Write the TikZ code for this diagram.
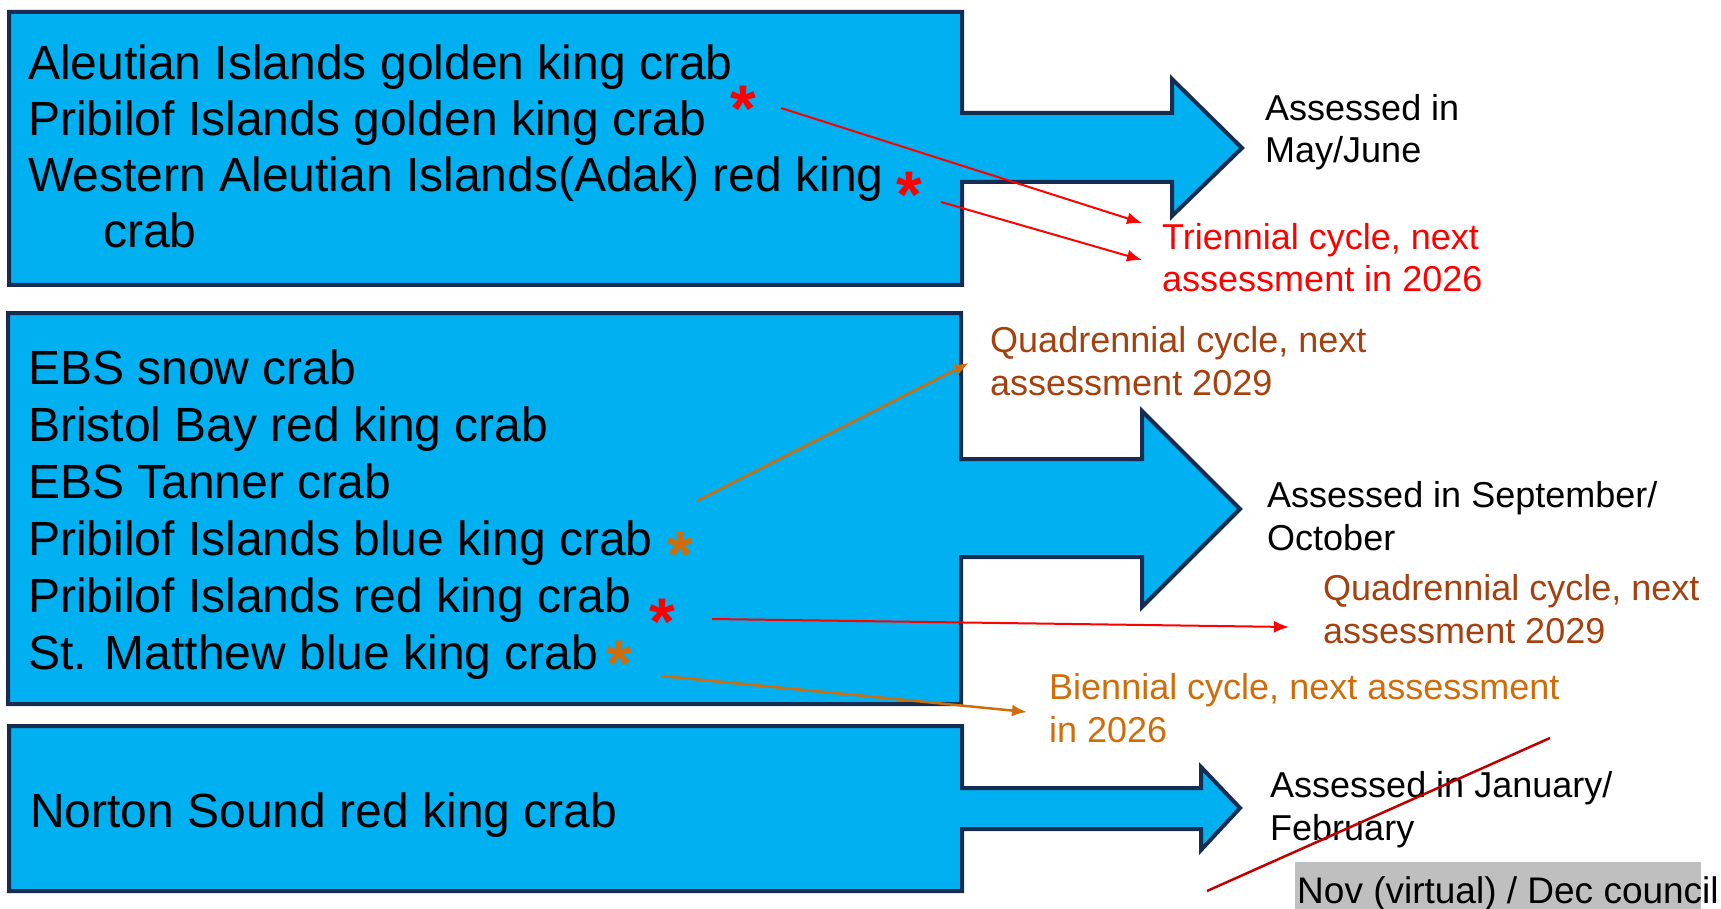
\documentclass[tikz,border=0pt]{standalone}
\usepackage{fontspec}
\setmainfont{Liberation Sans}
\usetikzlibrary{arrows.meta,positioning}
\definecolor{BoxBlue}{HTML}{00B0F0}
\definecolor{BoxEdge}{HTML}{172C51}
\definecolor{NoteRed}{HTML}{FF0000}
\definecolor{NoteBrown}{HTML}{A5400F}
\definecolor{NoteOrange}{HTML}{CF6D0B}
\definecolor{StrikeRed}{HTML}{C00000}
\definecolor{CouncilGray}{HTML}{BFBFBF}

\begin{document}
\begin{tikzpicture}[x=1pt, y=-1pt,
  crabbox/.style={draw=BoxEdge, fill=BoxBlue, line width=4pt, line join=miter},
  stock/.style={anchor=base west, inner sep=0pt, align=left, font=\fontsize{48}{57}\selectfont},
  note/.style={anchor=base west, inner sep=0pt, align=left, font=\fontsize{36}{42.5}\selectfont},
  star/.style={anchor=north, inner sep=0pt, font=\fontsize{66}{66}\selectfont\bfseries},
  redarr/.style={-{Latex[length=15pt,width=12pt]}, line width=2pt, NoteRed},
  orgarr/.style={-{Latex[length=15pt,width=12pt]}, line width=2.5pt, NoteOrange}
]
\useasboundingbox (0,0) rectangle (1721,909);

% three groups, each box runs into its arrow
\draw[crabbox] (9,12) -- (962,12) -- (962,113) -- (1172,113) -- (1172,79) -- (1242,148)
  -- (1172,216) -- (1172,182) -- (962,182) -- (962,285) -- (9,285) -- cycle;
\draw[crabbox] (8,313) -- (961,313) -- (961,459) -- (1142,459) -- (1142,411) -- (1240,509)
  -- (1142,607) -- (1142,557) -- (961,557) -- (961,704) -- (8,704) -- cycle;
\draw[crabbox] (9,726) -- (962,726) -- (962,788) -- (1201,788) -- (1201,767) -- (1240,808)
  -- (1201,850) -- (1201,829) -- (962,829) -- (962,891) -- (9,891) -- cycle;

% stocks (base = last line)
\node[stock, font=\fontsize{48}{56}\selectfont] (spring) at (28,248) {Aleutian Islands golden king crab\\Pribilof Islands golden king crab\\Western Aleutian Islands(Adak) red king\\\hspace*{75pt}crab};
\node[stock] (fall) at (28,669) {EBS snow crab\\Bristol Bay red king crab\\EBS Tanner crab\\Pribilof Islands blue king crab\\Pribilof Islands red king crab\\St. Matthew blue king crab};
\node[stock] (winter) at (30,827) {Norton Sound red king crab};

% timing
\node[note] (may) at (1265,163) {Assessed in\\May/June};
\node[note] (sep) at (1267,550) {Assessed in September/\\October};
\node[note] (jan) at (1270,840) {Assessed in January/\\February};

% cycles
\node[note, text=NoteRed] (tri) at (1162,292) {Triennial cycle, next\\assessment in 2026};
\node[note, text=NoteBrown] (quadA) at (990,395) {Quadrennial cycle, next\\assessment 2029};
\node[note, text=NoteBrown] (quadB) at (1323,643) {Quadrennial cycle, next\\assessment 2029};
\node[note, text=NoteOrange] (bien) at (1049,742) {Biennial cycle, next assessment\\in 2026};

% asterisks
\node[star, text=NoteRed] (pigkc) at (743,86) {*};
\node[star, text=NoteRed] (wairkc) at (909,172) {*};
\node[star, text=NoteOrange] (pibkc) at (680,532) {*};
\node[star, text=NoteRed] (pirkc) at (662,599) {*};
\node[star, text=NoteOrange] (smbkc) at (619,641) {*};

\coordinate (pigkcS) at (781,108);
\coordinate (wairkcS) at (941,202);
\coordinate (pibkcS) at (697,501);
\coordinate (pirkcS) at (712,619);
\coordinate (smbkcS) at (662,676);
\coordinate (triA) at (1142,223);
\coordinate (triB) at (1142,260);
\coordinate (quadAE) at (969,363);
\coordinate (quadBE) at (1289,627);
\coordinate (bienE) at (1027,712);

\draw[redarr] (pigkcS) -- (triA);
\draw[redarr] (wairkcS) -- (triB);
\draw[orgarr] (pibkcS) -- (quadAE);
\draw[redarr] (pirkcS) -- (quadBE);
\draw[orgarr] (smbkcS) -- (bienE);

% council meeting
\fill[CouncilGray] (1295,862) rectangle (1701,909);
\node[anchor=base west, inner sep=0pt, font=\fontsize{37}{44}\selectfont] (council) at (1297,903) {Nov (virtual) / Dec council};
\coordinate (strikeA) at (1207,891);
\coordinate (strikeB) at (1550,738);
\draw[StrikeRed, line width=2.5pt] (strikeA) -- (strikeB);
\end{tikzpicture}
\end{document}
